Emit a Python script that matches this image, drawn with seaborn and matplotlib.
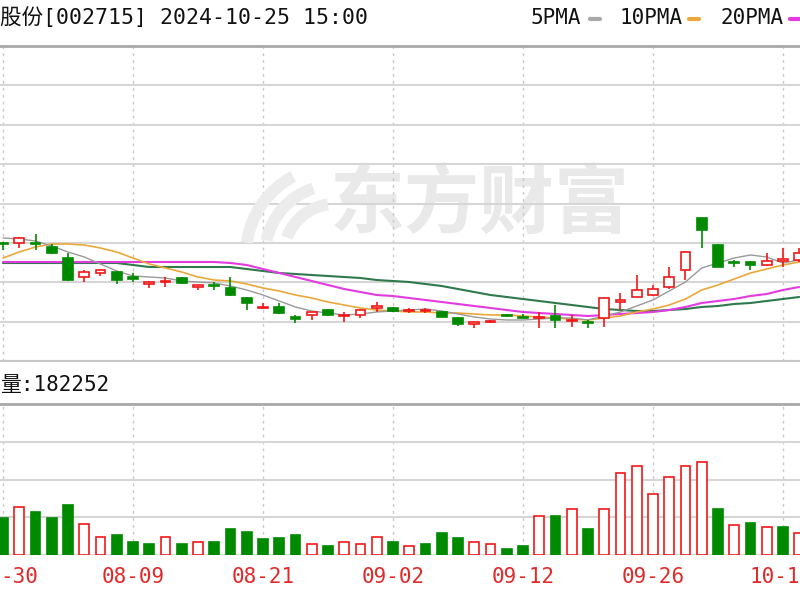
import numpy as np
import pandas as pd
import matplotlib
matplotlib.use("Agg")
import matplotlib.pyplot as plt
from matplotlib.patches import Wedge
from matplotlib.transforms import IdentityTransform
import seaborn as sns

# trading days shown (chart is cropped at both sides)
dates = ["07-30", "07-31", "08-01", "08-02", "08-05", "08-06", "08-07", "08-08", "08-09", "08-12",
         "08-13", "08-14", "08-15", "08-16", "08-19", "08-20", "08-21", "08-22", "08-23", "08-26",
         "08-27", "08-28", "08-29", "08-30", "09-02", "09-03", "09-04", "09-05", "09-06", "09-09",
         "09-10", "09-11", "09-12", "09-13", "09-18", "09-19", "09-20", "09-23", "09-24", "09-25",
         "09-26", "09-27", "09-30", "10-08", "10-09", "10-10", "10-11", "10-14", "10-15", "10-16"]

open_ = [10.57, 10.57, 10.57, 10.53, 10.42, 10.23, 10.27, 10.28, 10.23, 10.16,
         10.18, 10.22, 10.13, 10.15, 10.12, 10.02, 9.92, 9.93, 9.83, 9.85,
         9.90, 9.84, 9.85, 9.92, 9.92, 9.89, 9.89, 9.88, 9.82, 9.76,
         9.78, 9.85, 9.83, 9.82, 9.84, 9.79, 9.78, 9.82, 9.98, 10.03,
         10.05, 10.13, 10.30, 10.82, 10.55, 10.38, 10.38, 10.35, 10.39, 10.40]
high = [10.58, 10.63, 10.66, 10.56, 10.47, 10.30, 10.30, 10.29, 10.27, 10.19,
        10.23, 10.23, 10.15, 10.18, 10.23, 10.03, 9.97, 9.97, 9.85, 9.88,
        9.91, 9.88, 9.91, 9.98, 9.93, 9.92, 9.92, 9.89, 9.83, 9.78,
        9.80, 9.86, 9.86, 9.88, 9.95, 9.85, 9.80, 10.03, 10.07, 10.25,
        10.15, 10.33, 10.49, 10.83, 10.56, 10.40, 10.39, 10.47, 10.52, 10.52]
low = [10.50, 10.52, 10.50, 10.46, 10.19, 10.18, 10.24, 10.16, 10.18, 10.12,
       10.13, 10.16, 10.10, 10.10, 10.04, 9.90, 9.91, 9.86, 9.77, 9.80,
       9.84, 9.78, 9.82, 9.88, 9.88, 9.87, 9.87, 9.83, 9.74, 9.72,
       9.77, 9.83, 9.82, 9.72, 9.72, 9.73, 9.72, 9.73, 9.90, 10.03,
       10.04, 10.11, 10.20, 10.52, 10.33, 10.33, 10.30, 10.34, 10.33, 10.38]
close = [10.56, 10.62, 10.56, 10.47, 10.20, 10.28, 10.30, 10.20, 10.21, 10.18,
         10.19, 10.17, 10.15, 10.14, 10.05, 9.97, 9.93, 9.87, 9.81, 9.88,
         9.85, 9.85, 9.90, 9.94, 9.89, 9.90, 9.90, 9.83, 9.76, 9.78,
         9.79, 9.84, 9.82, 9.83, 9.80, 9.80, 9.77, 10.02, 10.00, 10.10,
         10.11, 10.23, 10.48, 10.70, 10.33, 10.37, 10.35, 10.39, 10.41, 10.47]

ma5 = [10.62, 10.61, 10.59, 10.54, 10.48, 10.43, 10.36, 10.29, 10.24, 10.23,
       10.22, 10.19, 10.18, 10.17, 10.14, 10.10, 10.05, 9.99, 9.93, 9.89,
       9.87, 9.85, 9.86, 9.88, 9.89, 9.90, 9.91, 9.89, 9.86, 9.83,
       9.81, 9.80, 9.80, 9.81, 9.82, 9.82, 9.80, 9.84, 9.88, 9.94,
       10.00, 10.09, 10.18, 10.32, 10.37, 10.42, 10.45, 10.43, 10.37, 10.40]
ma10 = [10.42, 10.48, 10.53, 10.56, 10.56, 10.55, 10.52, 10.48, 10.42, 10.36,
        10.32, 10.28, 10.23, 10.20, 10.19, 10.16, 10.12, 10.09, 10.05, 10.02,
        9.98, 9.95, 9.92, 9.90, 9.89, 9.88, 9.88, 9.87, 9.87, 9.86,
        9.85, 9.85, 9.84, 9.83, 9.82, 9.81, 9.80, 9.82, 9.84, 9.88,
        9.91, 9.95, 10.01, 10.10, 10.15, 10.21, 10.27, 10.31, 10.35, 10.38]
ma20 = [10.38, 10.38, 10.38, 10.38, 10.38, 10.38, 10.38, 10.38, 10.38, 10.38,
        10.38, 10.38, 10.38, 10.38, 10.37, 10.35, 10.31, 10.27, 10.23, 10.19,
        10.15, 10.11, 10.08, 10.05, 10.04, 10.02, 10.00, 9.98, 9.96, 9.94,
        9.92, 9.90, 9.88, 9.87, 9.86, 9.85, 9.84, 9.85, 9.86, 9.87,
        9.88, 9.90, 9.93, 9.97, 9.99, 10.01, 10.04, 10.06, 10.10, 10.13]
ma30 = [10.37, 10.37, 10.37, 10.37, 10.37, 10.37, 10.37, 10.37, 10.35, 10.33,
        10.33, 10.33, 10.33, 10.33, 10.33, 10.31, 10.29, 10.27, 10.26, 10.25,
        10.24, 10.23, 10.22, 10.20, 10.19, 10.18, 10.16, 10.14, 10.11, 10.08,
        10.05, 10.03, 10.01, 9.99, 9.97, 9.95, 9.93, 9.91, 9.90, 9.89,
        9.89, 9.90, 9.91, 9.93, 9.94, 9.96, 9.97, 9.99, 10.01, 10.03]

volume = [148000, 192000, 172000, 148000, 200000, 124000, 72000, 80000, 52000, 44000,
          72000, 44000, 52000, 52000, 104000, 92000, 64000, 68000, 80000, 44000,
          36000, 52000, 44000, 72000, 52000, 36000, 44000, 88000, 68000, 52000,
          44000, 24000, 36000, 156000, 156000, 184000, 104000, 184000, 328000, 356000,
          244000, 312000, 356000, 372000, 184000, 120000, 128000, 112000, 112000, 88000]
# 1 = red (up) volume bar, 0 = green
vol_up = [0, 1, 0, 0, 0, 1, 1, 0, 0, 0,
          1, 0, 1, 0, 0, 0, 0, 0, 0, 1,
          0, 1, 1, 1, 0, 1, 0, 0, 0, 1,
          1, 0, 0, 1, 0, 1, 0, 1, 1, 1,
          1, 1, 1, 1, 0, 1, 0, 1, 0, 1]

# date labels as they appear (first and last are cut by the crop)
tick_labels = ["-30", "08-09", "08-21", "09-02", "09-12", "09-26", "10-1"]

RED = "#f01818"
GREEN = "#008a00"
DATE_RED = "#e02a2a"

df = pd.DataFrame({"i": np.arange(len(dates)), "date": dates, "open": open_, "high": high,
                   "low": low, "close": close, "ma5": ma5, "ma10": ma10, "ma20": ma20,
                   "ma30": ma30, "volume": volume, "vol_up": vol_up})

sns.set_style("white")
plt.rcParams["font.family"] = ["DejaVu Sans Mono", "Noto Sans CJK SC"]

fig = plt.figure(figsize=(8, 6), dpi=100)
ax = fig.add_axes([0, 239 / 600, 1, 315 / 600])
axv = fig.add_axes([0, 45 / 600, 1, 151 / 600])

for a in (ax, axv):
    a.set_xlim(-0.185, 49.05)
    a.set_xticks(df["i"][::8])
    a.tick_params(length=0, labelleft=False, labelbottom=False)
    a.set_axisbelow(True)
    a.grid(axis="y", color="#d6d6d6", lw=1.5, linestyle="-")
    a.grid(axis="x", color="#c8c8c8", lw=1, linestyle=(0, (2, 3)))
    for s in a.spines.values():
        s.set_visible(False)
    a.spines["top"].set_visible(True)
    a.spines["top"].set_color("#a8a8a8")
    a.spines["top"].set_linewidth(2)

ax.set_ylim(9.39, 12.54)
ax.set_yticks(np.linspace(9.39, 12.54, 9))
ax.spines["bottom"].set_visible(True)
ax.spines["bottom"].set_color("#c8c8c8")
ax.spines["bottom"].set_linewidth(1.5)

# watermark: logo strokes + name
for r, t1, t2 in [(95, 118, 172), (76, 108, 168), (57, 98, 160)]:
    fig.add_artist(Wedge((335, 345), r, t1, t2, width=12, facecolor="#ececec",
                         edgecolor="none", transform=IdentityTransform(), zorder=0.2))
ax.text(480 / 800, 1 - 205 / 600, "东方财富", transform=fig.transFigure, ha="center", va="center",
        fontsize=54, fontweight="bold", color="#e9e9e9", family="Noto Sans CJK SC", zorder=0.5)

# moving averages
sns.lineplot(data=df, x="i", y="ma30", ax=ax, color="#2f7a4c", lw=1.5, zorder=2)
sns.lineplot(data=df, x="i", y="ma20", ax=ax, color="#e23be0", lw=1.5, zorder=2)
sns.lineplot(data=df, x="i", y="ma10", ax=ax, color="#eba83a", lw=1.2, zorder=2)
sns.lineplot(data=df, x="i", y="ma5", ax=ax, color="#9a9a9a", lw=1.0, zorder=2)
ax.set_xlabel("")
ax.set_ylabel("")

# candles
up = df[df["close"] >= df["open"]]
dn = df[df["close"] < df["open"]]
ax.vlines(up["i"], up["close"], up["high"], color=RED, lw=1.2, zorder=3)
ax.vlines(up["i"], up["low"], up["open"], color=RED, lw=1.2, zorder=3)
ax.bar(up["i"], up["close"] - up["open"], bottom=up["open"], width=0.6,
       facecolor="white", edgecolor=RED, lw=1.2, zorder=4)
ax.vlines(dn["i"], dn["low"], dn["high"], color=GREEN, lw=1.2, zorder=3)
ax.bar(dn["i"], dn["open"] - dn["close"], bottom=dn["close"], width=0.6,
       facecolor=GREEN, edgecolor=GREEN, lw=1.2, zorder=4)

# volume
axv.set_ylim(0, 604000)
axv.set_yticks([0, 151000, 302000, 453000, 604000])
vu = df[df["vol_up"] == 1]
vd = df[df["vol_up"] == 0]
axv.bar(vu["i"], vu["volume"], width=0.6, facecolor="white", edgecolor=RED, lw=1.2, zorder=3)
axv.bar(vd["i"], vd["volume"], width=0.6, facecolor=GREEN, edgecolor=GREEN, lw=1.2, zorder=3)

# date labels under the volume panel
for k, lab in enumerate(tick_labels):
    pos = df["i"][::8].iloc[k]
    if k == 0:
        fig.text(0, 1 - 577 / 600, lab, ha="left", va="center", fontsize=15, color=DATE_RED)
    elif k == len(tick_labels) - 1:
        fig.text(1, 1 - 577 / 600, lab, ha="right", va="center", fontsize=15, color=DATE_RED)
    else:
        axv.text(pos, -0.145, lab, transform=axv.get_xaxis_transform(), ha="center",
                 va="center", fontsize=15, color=DATE_RED)

# header texts
fig.text(0, 1 - 18 / 600, "股份[002715] 2024-10-25 15:00", ha="left", va="center",
         fontsize=15.5, color="#111111")
fig.text(530 / 800, 1 - 18 / 600, "5PMA", ha="left", va="center", fontsize=15, color="#111111")
fig.text(620 / 800, 1 - 18 / 600, "10PMA", ha="left", va="center", fontsize=15, color="#111111")
fig.text(720 / 800, 1 - 18 / 600, "20PMA", ha="left", va="center", fontsize=15, color="#111111")
for x0, col in [(590, "#a8a8a8"), (689, "#eba83a"), (790, "#e23be0")]:
    fig.add_artist(plt.Line2D([x0 / 800, (x0 + 10) / 800], [1 - 19 / 600, 1 - 19 / 600],
                              color=col, lw=3, transform=fig.transFigure))
fig.text(0, 1 - 385 / 600, "量:182252", ha="left", va="center", fontsize=15, color="#111111")

fig.savefig("out.png", dpi=100)
